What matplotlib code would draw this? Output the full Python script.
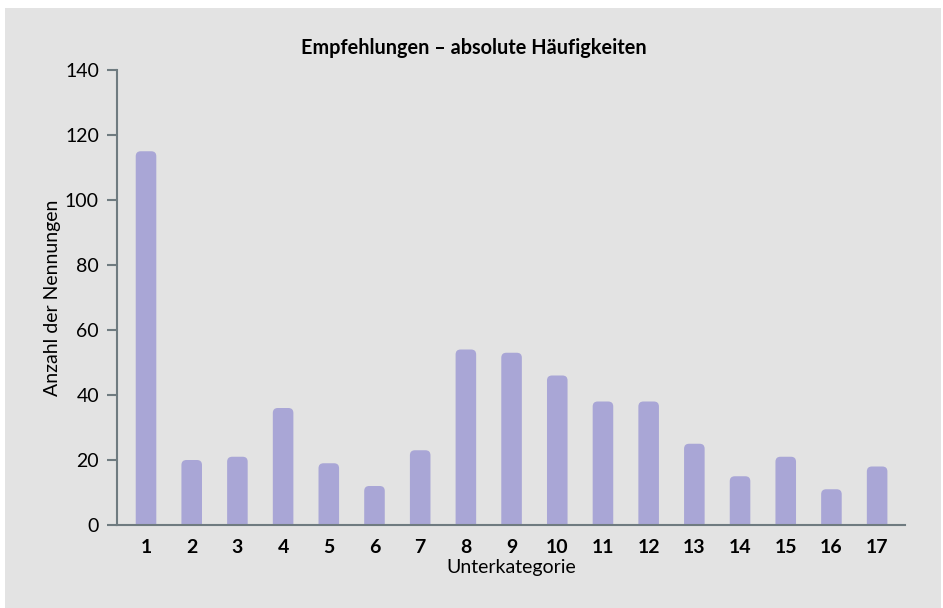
import matplotlib
matplotlib.use('Agg')
from matplotlib import pyplot as plt
from matplotlib.patches import FancyBboxPatch, Rectangle

kategorien = list(range(1, 18))
nennungen = [115, 20, 21, 36, 19, 12, 23, 54, 53, 46, 38, 38, 25, 15, 21, 11, 18]

y_ticks = [0, 20, 40, 60, 80, 100, 120, 140]

bar_col = '#a9a6d6'
bg_col = '#e3e3e3'
axis_col = '#6f7b80'

plt.rcParams['font.family'] = ['Lato', 'DejaVu Sans']

fig = plt.figure(figsize=(9.43, 6.08), dpi=100, facecolor='white')
# grauer Hintergrund mit schmalem weissen Rand
fig.patches.append(Rectangle((5 / 943, 0), 936 / 943, 600 / 608,
                             transform=fig.transFigure, facecolor=bg_col,
                             edgecolor='none', zorder=-1))

ax = fig.add_axes([117 / 943, 1 - 525 / 608, 788 / 943, 455 / 608])
ax.set_facecolor('none')
ax.set_xlim(0.365, 17.61)
ax.set_ylim(0, 140)

bars = ax.bar(kategorien, nennungen, width=0.45, color=bar_col)

# abgerundete Balkenkoepfe
px_x = 788 / (17.61 - 0.365)
px_y = 455 / 140
asp = px_x / px_y
r = 5 / px_x
for b in bars:
    b.set_visible(False)
    x0, w, h = b.get_x(), b.get_width(), b.get_height()
    p = FancyBboxPatch((x0, -5), w, h + 5,
                       boxstyle=f'round,pad=0,rounding_size={r}',
                       mutation_aspect=asp, facecolor=bar_col,
                       edgecolor='none', clip_on=True)
    ax.add_patch(p)

for s in ['top', 'right']:
    ax.spines[s].set_visible(False)
ax.spines['left'].set_color(axis_col)
ax.spines['bottom'].set_color(axis_col)
ax.spines['left'].set_linewidth(1.5)
ax.spines['bottom'].set_linewidth(1.5)

ax.set_yticks(y_ticks)
ax.set_xticks(kategorien)
ax.tick_params(axis='y', length=7, width=1.5, color=axis_col, labelsize=14, pad=6)
ax.tick_params(axis='x', length=0, labelsize=14, pad=10)
for lbl in ax.get_xticklabels():
    lbl.set_fontweight('bold')

ax.set_xlabel('Unterkategorie', fontsize=14, labelpad=2)
ax.set_ylabel('Anzahl der Nennungen', fontsize=14, labelpad=3)
fig.text(474 / 943, 1 - 48 / 608, 'Empfehlungen – absolute Häufigkeiten',
         ha='center', va='center', fontsize=14.3, fontweight='bold')

fig.savefig('out.png', dpi=100, facecolor='white')
